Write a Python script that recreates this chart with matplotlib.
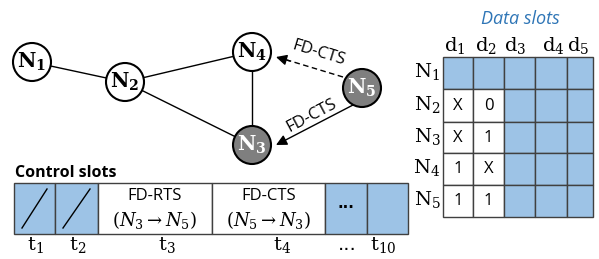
import matplotlib.pyplot as plt
from matplotlib.patches import Circle, Rectangle

plt.rcParams['mathtext.fontset'] = 'dejavuserif'

# network nodes
node_names = ['N1', 'N2', 'N3', 'N4', 'N5']
node_x = [32, 125, 252, 252, 362]
node_y = [62, 82, 145, 52, 88]
node_dark = [False, False, True, False, True]
links = [('N1', 'N2'), ('N2', 'N4'), ('N2', 'N3'), ('N4', 'N3')]

# control slots
ctrl_edges = [14, 55, 98, 212, 325, 367, 408]
ctrl_filled = [True, True, False, False, True, True]
ctrl_top = ['', '', 'FD-RTS', 'FD-CTS', '', '']
ctrl_bot = ['', '', r'$(N_3 \rightarrow N_5)$', r'$(N_5 \rightarrow N_3)$', '', '']
time_labels = [r'$\mathrm{t_1}$', r'$\mathrm{t_2}$', r'$\mathrm{t_3}$', r'$\mathrm{t_4}$', '...', r'$\mathrm{t_{10}}$']
time_x = [35, 78, 167, 282, 347, 383]

# data slots
data_cols = ['d1', 'd2', 'd3', 'd4', 'd5']
data_col_edges = [443, 473, 504, 535, 567, 593]
data_row_edges = [57, 89, 122, 153, 185, 217]
data_vals = [
    ['', '', '', '', ''],
    ['X', '0', '', '', ''],
    ['X', '1', '', '', ''],
    ['1', 'X', '', '', ''],
    ['1', '1', '', '', ''],
]
data_filled = [
    [1, 1, 1, 1, 1],
    [0, 0, 1, 1, 1],
    [0, 0, 1, 1, 1],
    [0, 0, 1, 1, 1],
    [0, 0, 1, 1, 1],
]
data_col_x = [455, 486, 515, 553, 578]

blue = '#9dc3e6'
edge = '#404040'

fig = plt.figure(figsize=(5.99, 2.59), dpi=100)
ax = fig.add_axes([0, 0, 1, 1])
ax.set_xlim(0, 599)
ax.set_ylim(259, 0)
ax.axis('off')

pos = {n: (x, y) for n, x, y in zip(node_names, node_x, node_y)}

for a, b in links:
    ax.plot([pos[a][0], pos[b][0]], [pos[a][1], pos[b][1]], color='black', lw=1, zorder=1)

# FD-CTS arrows from N5 (dashed towards N4, solid towards N3)
ax.plot([343, 287], [77, 60], color='black', lw=1, ls=(0, (4, 2.5)))
ax.annotate('', xy=(276, 57), xytext=(290, 61),
            arrowprops=dict(arrowstyle='-|>', color='black', lw=1, mutation_scale=16,
                            shrinkA=0, shrinkB=0))
ax.annotate('', xy=(276, 145), xytext=(353, 105),
            arrowprops=dict(arrowstyle='-|>', color='black', lw=1, mutation_scale=16,
                            shrinkA=0, shrinkB=0))
ax.text(319, 53, 'FD-CTS', rotation=-17, ha='center', va='center', fontsize=12, family='Open Sans')
ax.text(312, 116, 'FD-CTS', rotation=28, ha='center', va='center', fontsize=12, family='Open Sans')

for n, x, y, dark in zip(node_names, node_x, node_y, node_dark):
    ax.add_patch(Circle((x, y), 19, facecolor='#7f7f7f' if dark else 'white',
                        edgecolor='black', lw=1.5, zorder=3))
    ax.text(x, y, r'$\mathbf{N}_\mathbf{%s}$' % n[1], ha='center', va='center', fontsize=14.5,
            color='white' if dark else 'black', zorder=4)

# control slots
ax.text(15, 173, 'Control slots', fontsize=11.5, fontweight='bold', family='Open Sans', va='center')
ct, cb = 183, 234
for i in range(len(ctrl_filled)):
    x0, x1 = ctrl_edges[i], ctrl_edges[i + 1]
    ax.add_patch(Rectangle((x0, ct), x1 - x0, cb - ct, facecolor=blue if ctrl_filled[i] else 'white',
                           edgecolor=edge, lw=1))
    xc = (x0 + x1) / 2
    if i < 2:
        ax.plot([x0 + 8, x1 - 8], [cb - 6, ct + 6], color='black', lw=1)
    if ctrl_top[i]:
        ax.text(xc, 196, ctrl_top[i], ha='center', va='center', fontsize=12, family='Open Sans')
        ax.text(xc, 220, ctrl_bot[i], ha='center', va='center', fontsize=13)
ax.text((ctrl_edges[4] + ctrl_edges[5]) / 2, 203, '...', ha='center', va='center', fontsize=11, fontweight='bold')
for lbl, x in zip(time_labels, time_x):
    ax.text(x, 245, lbl, ha='center', va='center', fontsize=14)

# data slots
ax.text(520, 19, 'Data slots', ha='center', va='center', fontsize=13, style='italic',
        color='#2e75b6', family='Open Sans')
for j, (c, x) in enumerate(zip(data_cols, data_col_x)):
    ax.text(x, 45, r'$\mathrm{d_%s}$' % c[1], ha='center', va='center', fontsize=14)
for i, n in enumerate(node_names):
    y0, y1 = data_row_edges[i], data_row_edges[i + 1]
    ax.text(427, (y0 + y1) / 2 - 1, r'$\mathrm{N_%s}$' % n[1], ha='center', va='center', fontsize=14)
    for j in range(len(data_cols)):
        x0, x1 = data_col_edges[j], data_col_edges[j + 1]
        ax.add_patch(Rectangle((x0, y0), x1 - x0, y1 - y0,
                               facecolor=blue if data_filled[i][j] else 'white', edgecolor=edge, lw=1))
        if data_vals[i][j]:
            ax.text((x0 + x1) / 2, (y0 + y1) / 2, data_vals[i][j], ha='center', va='center',
                    fontsize=12, family='Open Sans')

fig.savefig('out.png', dpi=100)
